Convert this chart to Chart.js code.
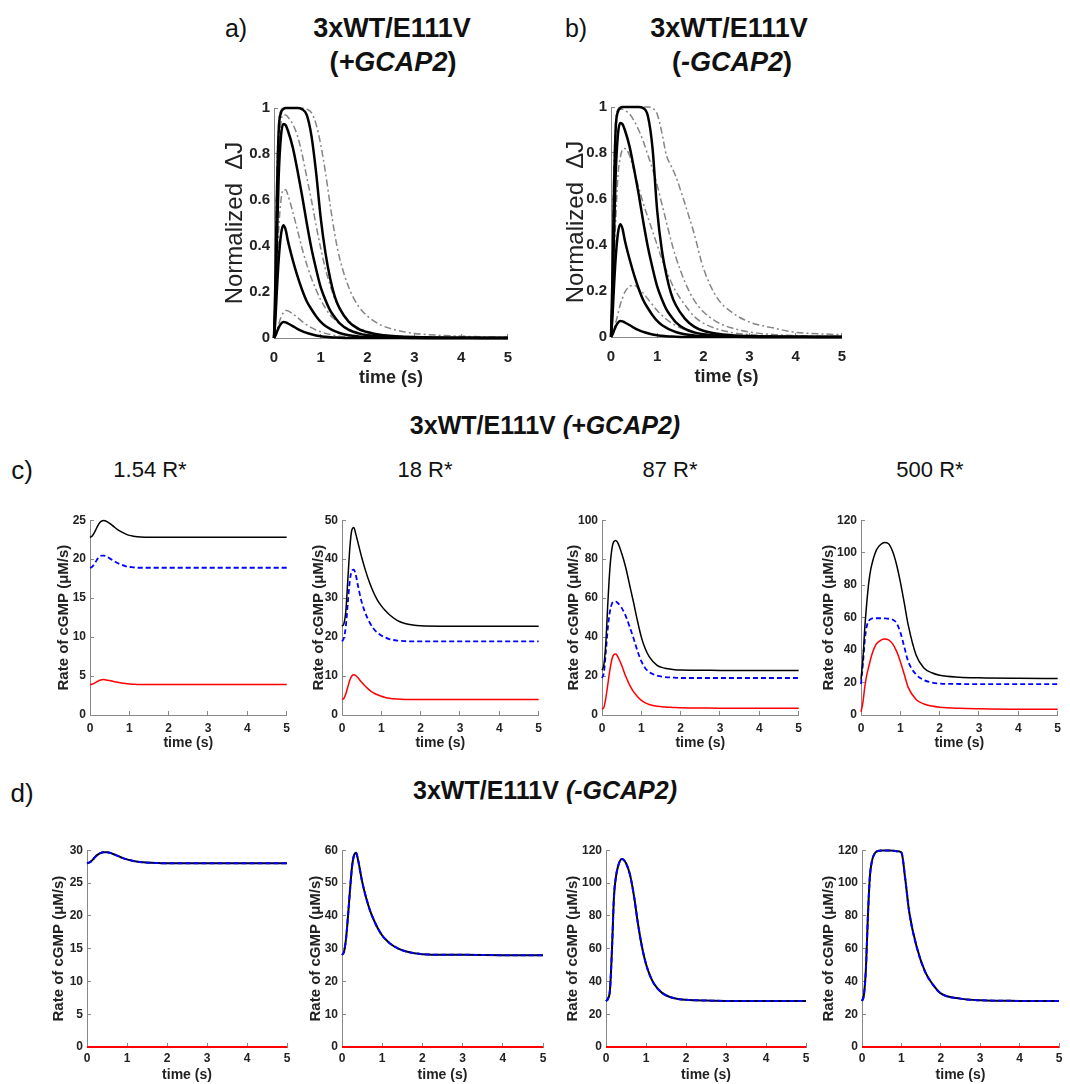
<!DOCTYPE html>
<html>
<head>
<meta charset="utf-8">
<script src="https://cdn.jsdelivr.net/npm/chart.js@4.4.1/dist/chart.umd.min.js"></script>
<style>
  body { margin: 0; background: #fff; width: 1070px; height: 1084px; overflow: hidden; position: relative;
         font-family: "Liberation Sans", Arial, sans-serif; color: #111; }
  .lbl { position: absolute; white-space: nowrap; transform: translate(-50%, -50%); }
  .head { font-weight: bold; font-size: 27px; }
  canvas { position: absolute; }
</style>
</head>
<body>

<div class="lbl" style="left:236px;top:28px;font-size:25px">a)</div>
<div class="lbl head" style="left:392px;top:28px">3xWT/E111V</div>
<div class="lbl head" style="left:393px;top:62px">(<i>+GCAP2</i>)</div>
<div class="lbl" style="left:576px;top:28px;font-size:25px">b)</div>
<div class="lbl head" style="left:729px;top:28px">3xWT/E111V</div>
<div class="lbl head" style="left:732px;top:62px">(<i>-GCAP2</i>)</div>

<div class="lbl head" style="left:545px;top:425px;font-size:25px">3xWT/E111V <i>(+GCAP2)</i></div>
<div class="lbl" style="left:22px;top:470px;font-size:26px">c)</div>
<div class="lbl" style="left:150px;top:470px;font-size:22px">1.54 R*</div>
<div class="lbl" style="left:425px;top:470px;font-size:22px">18 R*</div>
<div class="lbl" style="left:670px;top:470px;font-size:22px">87 R*</div>
<div class="lbl" style="left:930px;top:470px;font-size:22px">500 R*</div>

<div class="lbl head" style="left:545px;top:790px;font-size:25px">3xWT/E111V <i>(-GCAP2)</i></div>
<div class="lbl" style="left:22px;top:793px;font-size:26px">d)</div>

<script>
/* ---------- data ---------- */

// time grid for panels a) and b)
const tAB = [0, 0.03, 0.06, 0.1, 0.15, 0.2, 0.25, 0.3, 0.4, 0.5, 0.6, 0.7, 0.8, 0.9, 1.0, 1.1, 1.2, 1.3, 1.4, 1.6, 1.8, 2.0, 2.3, 2.6, 3.0, 3.5, 4.0, 4.5, 5.0];

// a) normalized dJ, black = solid, gray = dash-dot
const aBlack1 = [0, .01, .025, .045, .062, .07, .068, .063, .052, .04, .03, .022, .016, .011, .008, .005, .003, .002, .001, 0, 0, 0, 0, 0, 0, 0, 0, 0, 0];
const aBlack2 = [0, .08, .2, .34, .45, .49, .47, .42, .34, .27, .21, .16, .125, .095, .07, .052, .04, .03, .022, .012, .007, .004, .002, .001, 0, 0, 0, 0, 0];
const aBlack3 = [0, .15, .4, .7, .88, .93, .925, .9, .83, .73, .62, .5, .39, .3, .22, .165, .12, .09, .065, .035, .02, .012, .006, .003, .001, 0, 0, 0, 0];
const aBlack4 = [0, .25, .6, .9, .98, .995, 1, 1, 1, 1, .995, .97, .88, .72, .52, .37, .26, .18, .13, .07, .04, .025, .013, .008, .004, .002, .001, 0, 0];
const aGray1 = [0, .01, .03, .06, .09, .11, .12, .118, .105, .09, .072, .057, .045, .035, .027, .02, .015, .011, .008, .004, .002, .001, 0, 0, 0, 0, 0, 0, 0];
const aGray2 = [0, .1, .27, .47, .6, .645, .645, .62, .55, .47, .39, .32, .26, .21, .165, .13, .1, .08, .062, .038, .023, .014, .007, .003, .001, 0, 0, 0, 0];
const aGray3 = [0, .2, .5, .8, .94, .97, .97, .96, .93, .88, .8, .7, .6, .49, .39, .3, .23, .17, .13, .075, .045, .028, .014, .008, .004, .002, .001, 0, 0];
const aGray4 = [0, .3, .7, .93, .99, 1, 1, 1, 1, 1, 1, .995, .98, .93, .84, .72, .58, .45, .35, .22, .14, .095, .055, .035, .02, .012, .008, .005, .003];

// b)
const bBlack1 = [0, .01, .025, .045, .062, .07, .068, .063, .052, .04, .03, .022, .016, .011, .008, .005, .003, .002, .001, 0, 0, 0, 0, 0, 0, 0, 0, 0, 0];
const bBlack2 = [0, .08, .2, .34, .45, .49, .47, .42, .34, .27, .21, .16, .125, .095, .07, .052, .04, .03, .022, .012, .007, .004, .002, .001, 0, 0, 0, 0, 0];
const bBlack3 = [0, .15, .4, .7, .88, .93, .925, .9, .83, .73, .62, .5, .39, .3, .22, .165, .12, .09, .065, .035, .02, .012, .006, .003, .001, 0, 0, 0, 0];
const bBlack4 = [0, .25, .6, .9, .98, .995, 1, 1, 1, 1, 1, .995, .96, .82, .55, .38, .27, .19, .14, .08, .045, .027, .014, .008, .004, .002, .001, 0, 0];
const bGray1 = [0, .01, .03, .06, .1, .14, .17, .195, .22, .225, .21, .19, .165, .14, .115, .095, .077, .062, .05, .032, .02, .013, .007, .004, .002, .001, 0, 0, 0];
const bGray2 = [0, .12, .3, .5, .7, .78, .815, .82, .79, .72, .65, .58, .52, .46, .4, .34, .29, .24, .2, .14, .09, .06, .035, .02, .01, .005, .002, .001, 0];
const bGray3 = [0, .25, .6, .88, .97, .99, .99, .985, .97, .94, .9, .85, .79, .73, .66, .58, .5, .42, .35, .24, .16, .11, .065, .04, .022, .011, .006, .003, .002];
const bGray4 = [0, .3, .7, .93, .99, 1, 1, 1, 1, 1, 1, 1, 1, .995, .97, .89, .79, .745, .7, .58, .45, .3, .17, .11, .065, .04, .02, .014, .01];

// time grid for rows c) and d)
const tCD = [0, 0.05, 0.1, 0.15, 0.2, 0.25, 0.3, 0.35, 0.4, 0.5, 0.6, 0.7, 0.8, 0.9, 1.0, 1.1, 1.2, 1.4, 1.6, 1.8, 2.0, 2.5, 3.0, 4.0, 5.0];

// c) rate of cGMP (uM/s): black solid, blue dashed, red solid
const c1Black = [22.8, 22.95, 23.3, 23.8, 24.3, 24.7, 24.9, 24.95, 24.9, 24.6, 24.2, 23.8, 23.5, 23.25, 23.05, 22.95, 22.88, 22.82, 22.8, 22.8, 22.8, 22.8, 22.8, 22.8, 22.8];
const c1Blue  = [18.9, 19.0, 19.3, 19.7, 20.1, 20.35, 20.45, 20.45, 20.4, 20.1, 19.8, 19.5, 19.3, 19.1, 19.0, 18.95, 18.9, 18.9, 18.9, 18.9, 18.9, 18.9, 18.9, 18.9, 18.9];
const c1Red   = [3.9, 3.95, 4.05, 4.2, 4.35, 4.45, 4.52, 4.55, 4.5, 4.42, 4.3, 4.2, 4.1, 4.03, 3.98, 3.95, 3.92, 3.9, 3.9, 3.9, 3.9, 3.9, 3.9, 3.9, 3.9];

const c2Black = [22.8, 23.5, 27, 35, 43, 47.5, 48.1, 46.5, 44.5, 40.5, 37, 34, 31.5, 29.5, 28, 26.8, 25.8, 24.3, 23.5, 23.1, 22.9, 22.8, 22.8, 22.8, 22.8];
const c2Blue  = [18.9, 19.8, 23, 29, 34.5, 37, 37.3, 36, 33.5, 29, 26, 23.8, 22.2, 21.1, 20.4, 19.9, 19.5, 19.1, 18.95, 18.9, 18.9, 18.9, 18.9, 18.9, 18.9];
const c2Red   = [4.0, 4.3, 5.5, 7.3, 9.0, 10.0, 10.3, 10.1, 9.6, 8.4, 7.3, 6.4, 5.7, 5.2, 4.8, 4.5, 4.3, 4.1, 4.0, 4.0, 4.0, 4.0, 4.0, 4.0, 4.0];

const c3Black = [23, 26, 38, 58, 75, 85, 89, 89.6, 88.5, 83, 76, 67, 58, 48.5, 40, 34, 30, 25.5, 24, 23.4, 23.1, 23, 22.9, 22.8, 22.8];
const c3Blue  = [19, 22, 33, 45, 53, 57, 58.2, 58.2, 57.5, 55, 51, 45.5, 39.5, 33, 27.6, 24, 22, 20.2, 19.5, 19.2, 19, 19, 19, 19, 19];
const c3Red   = [3.0, 4, 9, 16, 23, 28.5, 31, 31.3, 30, 25.5, 20, 15.5, 12, 9.5, 7.5, 6.2, 5.4, 4.5, 4.1, 3.9, 3.7, 3.6, 3.5, 3.5, 3.5];

const c4Black = [22, 35, 55, 70, 82, 90, 95, 99, 102, 105, 106.2, 105.5, 101, 93, 82, 69, 55.5, 37, 29, 26, 24.5, 23.3, 22.9, 22.6, 22.5];
const c4Blue  = [19, 32, 47, 55, 58, 59.2, 59.5, 59.6, 59.6, 59.6, 59.5, 59.3, 58.8, 56.8, 51, 42, 33, 25, 21.5, 20, 19.4, 19.1, 19, 19, 19];
const c4Red   = [2, 8, 18, 25, 30, 35, 39, 42, 44, 46, 46.8, 46.3, 44, 39.5, 33, 25, 17, 9.5, 6.8, 5.5, 4.8, 4.1, 3.8, 3.5, 3.5];

// d) black and blue coincide, red stays at zero
const d1Rate = [28, 28.1, 28.3, 28.6, 28.95, 29.25, 29.45, 29.6, 29.68, 29.7, 29.55, 29.3, 29.05, 28.8, 28.6, 28.45, 28.32, 28.15, 28.07, 28.03, 28, 28, 28, 28, 28];
const d2Rate = [28.1, 29, 33, 40, 48, 55, 58.5, 59.2, 57, 50.5, 45.5, 41.5, 38.5, 36, 34, 32.6, 31.5, 30, 29.1, 28.6, 28.3, 28.1, 28.1, 28, 28];
const d3Rate = [28, 29.5, 35, 60, 92, 104, 110, 113.5, 114.6, 112, 105, 92, 75, 61, 50.6, 43.5, 38.6, 33, 30.5, 29.3, 28.8, 28.3, 28.1, 28, 28];
const d4Rate = [28, 32, 48, 80, 104, 113, 117, 118.8, 119.5, 119.8, 119.8, 119.8, 119.7, 119.3, 118.6, 102, 82, 60, 46, 38, 32.7, 29.5, 28.5, 28.1, 28];
const tRed = [0, 5];
const dRed = [0, 0];

// axis ticks
const xTicks = [0, 1, 2, 3, 4, 5];
const abYMax = 1, abYStep = 0.2;
const cYMax = [25, 50, 100, 120], cYStep = [5, 10, 20, 20];
const dYMax = [30, 60, 120, 120], dYStep = [5, 10, 20, 20];

/* ---------- drawing ---------- */
const FONT = '"Liberation Sans", Arial, sans-serif';
const PAD_T = 12, PAD_R = 12;

const black = (t, v, w) => ({ t, v, color: '#000', width: w });
const gray  = (t, v) => ({ t, v, color: '#858585', width: 1.5, dash: [7, 3, 2, 3] });
const blue  = (t, v, w) => ({ t, v, color: '#0000ff', width: w, dash: [5, 3] });
const red   = (t, v, w) => ({ t, v, color: '#ff0000', width: w });

function panel(p) {
  const c = document.createElement('canvas');
  c.width = p.L + p.w + PAD_R;
  c.height = PAD_T + p.h + p.B;
  c.style.left = (p.x - p.L) + 'px';
  c.style.top = (p.y - PAD_T) + 'px';
  document.body.appendChild(c);

  const datasets = p.series.map((s, i) => ({
    data: s.t.map((t, k) => ({ x: t, y: s.v[k] })),
    borderColor: s.color,
    borderWidth: s.width,
    borderDash: s.dash || [],
    pointRadius: 0,
    cubicInterpolationMode: 'monotone',
    fill: false,
    clip: 6,
    order: i
  }));

  const axisGrid = { drawOnChartArea: false, drawTicks: true, tickLength: -4, color: '#888' };

  new Chart(c, {
    type: 'line',
    data: { datasets },
    options: {
      responsive: false,
      animation: false,
      events: [],
      layout: { padding: { top: PAD_T, right: PAD_R, left: 0, bottom: 0 } },
      plugins: { legend: { display: false }, tooltip: { enabled: false } },
      scales: {
        x: {
          type: 'linear', min: xTicks[0], max: xTicks[xTicks.length - 1],
          afterBuildTicks: s => { s.ticks = xTicks.map(v => ({ value: v })); },
          grid: axisGrid,
          border: { display: true, color: '#888', width: 1 },
          ticks: { color: '#222', padding: p.xPad, font: { family: FONT, size: p.tickSize, weight: 'bold' }, maxRotation: 0 },
          title: { display: true, text: 'time (s)', color: '#222', padding: { top: 0, bottom: 4 },
                   font: { family: FONT, size: p.xTitleSize, weight: 'bold' } },
          afterFit: s => { s.height = p.B; }
        },
        y: {
          min: 0, max: p.yMax,
          ticks: { stepSize: p.yStep, color: '#222', padding: 8, font: { family: FONT, size: p.tickSize, weight: 'bold' },
                   callback: v => String(+v.toFixed(2)) },
          grid: axisGrid,
          border: { display: true, color: '#888', width: 1 },
          title: { display: true, text: p.yTitle, color: '#222', padding: { top: 4, bottom: 0 },
                   font: { family: FONT, size: p.yTitleSize, weight: p.yTitleWeight } },
          afterFit: s => { s.width = p.L; }
        }
      }
    }
  });
}

// a) and b)
const abCommon = { h: 235, B: 55, xPad: 15, tickSize: 15, xTitleSize: 18, yTitle: 'Normalized  \u0394J',
                   yTitleSize: 24, yTitleWeight: 'normal', yMax: abYMax, yStep: abYStep };
panel(Object.assign({}, abCommon, { x: 274, y: 103, w: 241, L: 57, series: [
  black(tAB, aBlack1, 2.5), black(tAB, aBlack2, 2.5), black(tAB, aBlack3, 2.5), black(tAB, aBlack4, 2.5),
  gray(tAB, aGray1), gray(tAB, aGray2), gray(tAB, aGray3), gray(tAB, aGray4)] }));
panel(Object.assign({}, abCommon, { x: 611, y: 102, w: 238, L: 53, series: [
  black(tAB, bBlack1, 2.5), black(tAB, bBlack2, 2.5), black(tAB, bBlack3, 2.5), black(tAB, bBlack4, 2.5),
  gray(tAB, bGray1), gray(tAB, bGray2), gray(tAB, bGray3), gray(tAB, bGray4)] }));

// c) row
const cdCommon = { h: 198, B: 41, xPad: 10, tickSize: 12, xTitleSize: 14, yTitle: 'Rate of cGMP (\u03BCM/s)',
                   yTitleSize: 15, yTitleWeight: 'bold' };
const cX = [90, 342, 602, 861], cL = [39, 36, 41, 45];
const cSeries = [[c1Black, c1Blue, c1Red], [c2Black, c2Blue, c2Red], [c3Black, c3Blue, c3Red], [c4Black, c4Blue, c4Red]];
cSeries.forEach((s, i) => {
  panel(Object.assign({}, cdCommon, { x: cX[i], y: 517, w: 198, L: cL[i], yMax: cYMax[i], yStep: cYStep[i],
    series: [black(tCD, s[0], 1.5), blue(tCD, s[1], 1.8), red(tCD, s[2], 1.5)] }));
});

// d) row
const dX = [87, 342, 606, 862], dW = [200, 201, 200, 197], dL = [41, 39, 46, 46];
const dSeries = [d1Rate, d2Rate, d3Rate, d4Rate];
dSeries.forEach((s, i) => {
  panel(Object.assign({}, cdCommon, { x: dX[i], y: 847, w: dW[i], h: 200, xPad: 8, L: dL[i], yMax: dYMax[i], yStep: dYStep[i],
    series: [blue(tCD, s, 2), black(tCD, s, 2), red(tRed, dRed, 2)] }));
});
</script>
</body>
</html>
